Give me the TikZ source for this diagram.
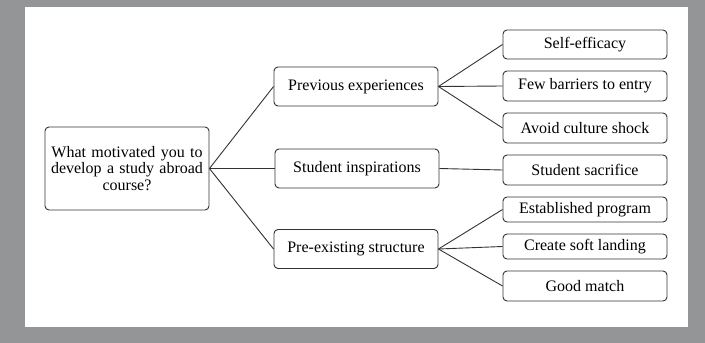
\documentclass[tikz,border=0pt]{standalone}
\usepackage{fontspec}
\setmainfont{Liberation Serif}
\definecolor{framegray}{RGB}{148,149,150}

\begin{document}
\begin{tikzpicture}[
    x=1pt, y=-1pt,
    box/.style={draw=black!80, rounded corners=4pt, line width=0.9pt, fill=white, align=center, inner sep=2pt, font=\fontsize{16}{16.5}\selectfont},
    rootbox/.style={box, minimum width=164pt, minimum height=83pt, text width=158pt},
    midbox/.style={box, minimum width=164pt, minimum height=39pt},
    leafbox/.style={box, minimum width=164pt, minimum height=30pt},
    branch/.style={black!80, line width=0.9pt}
]

    % Marco gris y fondo blanco
    \fill[framegray] (0,0) rectangle (705,343);
    \fill[white] (25,7) rectangle (688,327);
    \useasboundingbox (0,0) rectangle (705,343);

    % Pregunta principal
    \node[rootbox] (root) at (127,168.5) {What motivated you to\\develop a study abroad\\course?};

    % Temas
    \node[midbox] (prev) at (356,86.5) {Previous experiences};
    \node[midbox] (insp) at (357,168.5) {Student inspirations};
    \node[midbox] (pre) at (356,249) {Pre-existing structure};

    % Subtemas
    \node[leafbox, minimum height=29pt] (self) at (585,44.5) {Self-efficacy};
    \node[leafbox] (few) at (585,86) {Few barriers to entry};
    \node[leafbox] (avoid) at (585,128) {Avoid culture shock};
    \node[leafbox] (sacr) at (585,170) {Student sacrifice};
    \node[leafbox, minimum height=25pt] (est) at (585,209.5) {Established program};
    \node[leafbox, minimum height=25pt] (soft) at (585,246.5) {Create soft landing};
    \node[leafbox] (good) at (585,286) {Good match};

    % Ramas
    \draw[branch] (root.east) -- (prev.west);
    \draw[branch] (root.east) -- (insp.west);
    \draw[branch] (root.east) -- (pre.west);

    \draw[branch] (prev.east) -- (self.west);
    \draw[branch] (prev.east) -- (few.west);
    \draw[branch] (prev.east) -- (avoid.west);
    \draw[branch] (insp.east) -- (sacr.west);
    \draw[branch] (pre.east) -- (est.west);
    \draw[branch] (pre.east) -- (soft.west);
    \draw[branch] (pre.east) -- (good.west);

\end{tikzpicture}
\end{document}
